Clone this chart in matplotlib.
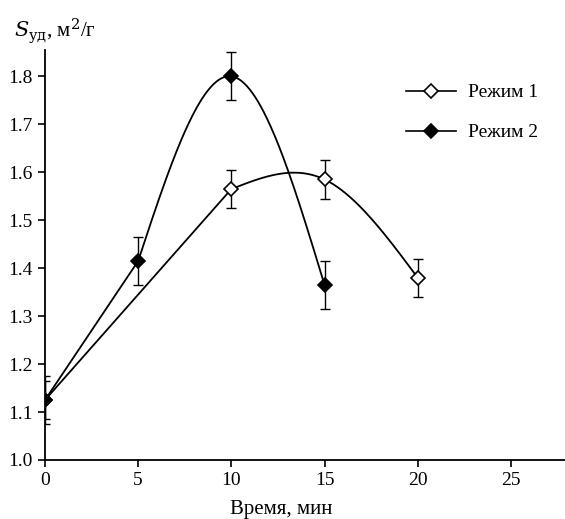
"""
Удельная поверхность в зависимости от времени обработки (два режима).
"""

import numpy as np
import matplotlib.pyplot as plt

plt.rcParams['font.family'] = ['Liberation Serif', 'DejaVu Serif']
plt.rcParams['mathtext.fontset'] = 'dejavuserif'

# Data
t1 = [0, 10, 15, 20]
s1 = [1.125, 1.565, 1.585, 1.38]
err1 = [0.04, 0.04, 0.04, 0.04]

t2 = [0, 5, 10, 15]
s2 = [1.125, 1.415, 1.80, 1.365]
err2 = [0.05, 0.05, 0.05, 0.05]

labels = ['Режим 1', 'Режим 2']
xticks = [0, 5, 10, 15, 20, 25]
yticks = [1.0, 1.1, 1.2, 1.3, 1.4, 1.5, 1.6, 1.7, 1.8]


def natural_spline(x, y, n=200):
    x = np.asarray(x, float)
    y = np.asarray(y, float)
    k = len(x)
    h = np.diff(x)
    A = np.zeros((k, k))
    b = np.zeros(k)
    A[0, 0] = A[-1, -1] = 1
    for i in range(1, k - 1):
        A[i, i - 1] = h[i - 1]
        A[i, i] = 2 * (h[i - 1] + h[i])
        A[i, i + 1] = h[i]
        b[i] = 6 * ((y[i + 1] - y[i]) / h[i] - (y[i] - y[i - 1]) / h[i - 1])
    m = np.linalg.solve(A, b)
    xs = np.linspace(x[0], x[-1], n)
    idx = np.clip(np.searchsorted(x, xs) - 1, 0, k - 2)
    x0, x1 = x[idx], x[idx + 1]
    hh = x1 - x0
    a = (x1 - xs) / hh
    bb = (xs - x0) / hh
    ys = (a * y[idx] + bb * y[idx + 1]
          + ((a ** 3 - a) * m[idx] + (bb ** 3 - bb) * m[idx + 1]) * hh ** 2 / 6)
    return xs, ys


def guide_line(x, y):
    # straight from the start point, then a smooth spline through the rest
    xs, ys = natural_spline(x[1:], y[1:])
    return np.r_[x[0], xs], np.r_[y[0], ys]


fig = plt.figure(figsize=(5.65, 5.19), dpi=100)
ax = fig.add_axes([0.0796, 0.1137, 0.9204, 0.79])

for t, s, e, lab, fc in [(t1, s1, err1, labels[0], 'white'),
                         (t2, s2, err2, labels[1], 'black')]:
    xs, ys = guide_line(t, s)
    ax.plot(xs, ys, color='black', lw=1.3, zorder=2)
    ax.errorbar(t, s, yerr=e, fmt='none', ecolor='black', elinewidth=1.0,
                capsize=3.5, capthick=1.0, zorder=3)
    ax.plot(t, s, ls='none', marker='D', ms=7, mfc=fc, mec='black',
            mew=1.2, zorder=4)
    ax.plot([], [], color='black', lw=1.2, marker='D', ms=7, mfc=fc,
            mec='black', mew=1.2, label=lab)

ax.set_xlim(0, 27.9)
ax.set_ylim(1.0, 1.855)
ax.set_xticks(xticks)
ax.set_yticks(yticks)
ax.set_yticklabels([f'{v:.1f}' for v in yticks])
ax.spines['top'].set_visible(False)
ax.spines['right'].set_visible(False)
ax.tick_params(direction='out', length=5, width=1.2, labelsize=14, pad=4)
for sp in ['left', 'bottom']:
    ax.spines[sp].set_linewidth(1.3)

ax.set_xlabel('Время, мин', fontsize=15)
ax.xaxis.set_label_coords((281 - 45) / 520, -0.098)
fig.text(0.025, 0.94, r'$S_{\mathrm{уд}}$, м$^2$/г', fontsize=15,
         ha='left', va='center')

ax.legend(loc='upper left', bbox_to_anchor=(0.66, 0.96), frameon=False,
          fontsize=14, handlelength=2.6, labelspacing=1.15, handletextpad=0.6)

plt.savefig('out.png', dpi=100)
